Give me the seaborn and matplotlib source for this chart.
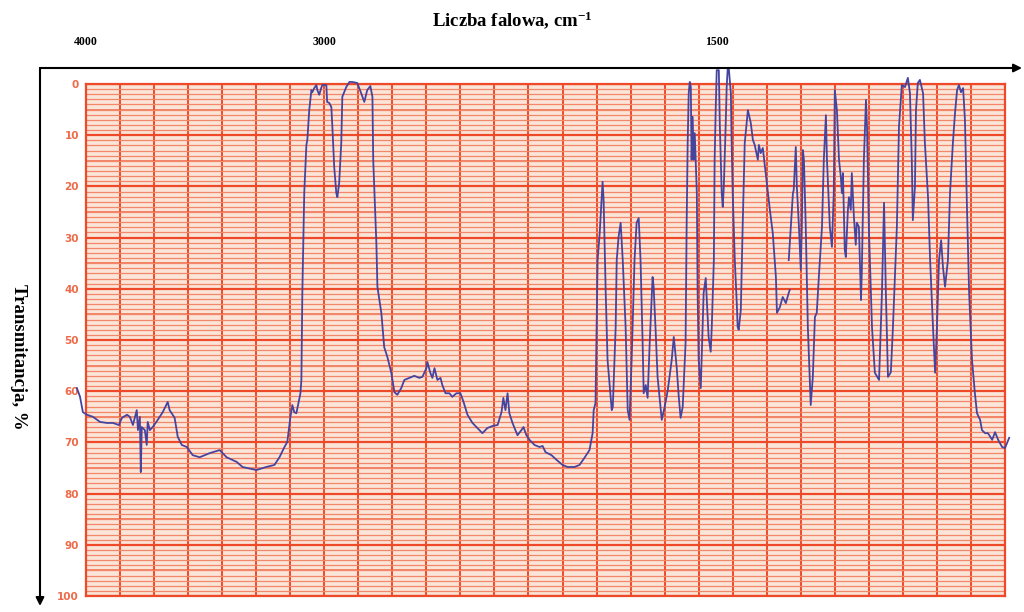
import numpy as np
import pandas as pd
import matplotlib
matplotlib.use("Agg")
import matplotlib.pyplot as plt
from matplotlib.patches import FancyArrowPatch
import seaborn as sns

# ---------------- data (wavenumber cm-1, transmittance %) ----------------
wn_a = [4038, 4025, 4013, 3996, 3971, 3941, 3912, 3887, 3862, 3849,
        3828, 3816, 3803, 3787, 3782, 3774, 3770, 3766, 3753, 3745,
        3741, 3732, 3720, 3699, 3678, 3657, 3649, 3628, 3615, 3598,
        3577, 3552, 3523, 3481, 3439, 3410, 3368, 3343, 3285, 3243,
        3209, 3188, 3167, 3155, 3142, 3134, 3126, 3117, 3100, 3096,
        3092, 3084, 3075, 3071, 3063, 3054, 3050, 3042, 3033, 3029,
        3021, 3013, 3008, 2992, 2989, 2981, 2973, 2969, 2962, 2954,
        2950, 2943, 2935, 2931, 2916, 2904, 2893, 2874, 2859, 2847,
        2836, 2824, 2816, 2813, 2801, 2797, 2782, 2771, 2759, 2744,
        2732, 2721, 2706, 2694, 2675, 2656, 2637, 2625, 2610, 2606,
        2595, 2587, 2579, 2568, 2556, 2549, 2537, 2522, 2511, 2495,
        2480, 2468, 2453, 2434, 2415, 2396, 2377, 2358, 2338, 2323,
        2316, 2308, 2300, 2293, 2281, 2262, 2247, 2239, 2228, 2216,
        2197, 2178, 2166, 2155, 2132, 2113, 2090, 2071, 2044, 2025,
        2006, 1987, 1975, 1971, 1964, 1956, 1948, 1937, 1933, 1925,
        1918, 1902, 1898, 1887, 1883, 1876, 1868, 1860, 1849, 1841,
        1834, 1826, 1815, 1807, 1799, 1792, 1784, 1780, 1772, 1765,
        1757, 1746, 1742, 1734, 1727, 1711, 1700, 1688, 1673, 1665,
        1654, 1646, 1639, 1631, 1620, 1616, 1612, 1608, 1604, 1600,
        1597, 1593, 1589, 1585, 1577, 1574, 1570, 1562, 1555, 1551,
        1543, 1539, 1532, 1524, 1520, 1512, 1509, 1505, 1501, 1493,
        1489, 1482, 1478, 1474, 1467, 1463, 1459, 1455, 1447, 1444,
        1440, 1432, 1425, 1421, 1417, 1409, 1402, 1394, 1382, 1371,
        1363, 1356, 1344, 1340, 1333, 1325, 1321, 1310, 1298, 1287,
        1275, 1271, 1260, 1249, 1237, 1226, 1222]
tr_a = [59.4, 61.1, 64.1, 64.6, 65.0, 66.0, 66.2, 66.2, 66.6, 65.2,
        64.6, 65.0, 66.6, 63.7, 67.6, 65.0, 75.8, 67.0, 67.6, 70.5,
        66.0, 67.6, 67.0, 65.6, 64.1, 62.1, 63.7, 65.2, 68.9, 70.5,
        70.9, 72.5, 72.9, 72.1, 71.5, 72.9, 73.8, 74.8, 75.4, 74.8,
        74.4, 72.9, 70.9, 69.9, 65.0, 62.7, 64.1, 64.3, 60.4, 57.8,
        40.8, 21.3, 11.9, 10.9, 5.1, 1.2, 1.6, 0.8, 0.2, 1.2,
        2.1, 0.8, 0.2, 0.2, 3.5, 3.7, 4.5, 8.4, 16.2, 21.3,
        22.1, 19.3, 11.5, 2.5, 0.6, -0.4, -0.4, -0.2, 1.8, 3.5,
        1.2, 0.4, 2.5, 14.8, 31.1, 39.6, 44.7, 51.4, 53.3, 56.4,
        60.2, 60.7, 59.4, 57.8, 57.4, 57.0, 57.4, 57.2, 55.5, 54.3,
        56.4, 57.4, 55.5, 57.8, 57.4, 58.8, 60.4, 60.4, 61.1, 60.4,
        60.4, 62.1, 64.6, 66.2, 67.2, 68.2, 67.2, 66.8, 66.6, 64.1,
        61.3, 63.7, 60.4, 64.3, 66.2, 68.6, 67.6, 67.0, 68.6, 69.5,
        70.5, 70.9, 70.7, 71.9, 72.5, 73.4, 74.4, 74.8, 74.8, 74.4,
        73.0, 71.5, 68.2, 63.7, 62.3, 34.4, 29.1, 19.1, 22.7, 40.8,
        53.9, 63.7, 63.1, 47.5, 34.4, 29.9, 27.1, 34.4, 47.5, 63.7,
        65.6, 53.9, 34.4, 27.1, 26.2, 34.4, 50.6, 60.4, 58.8, 61.3,
        50.6, 37.7, 39.6, 48.6, 57.2, 65.6, 63.1, 59.8, 53.9, 49.4,
        55.3, 61.1, 65.2, 63.1, 50.6, 27.9, 11.5, 1.8, -0.4, 0.6,
        14.8, 6.4, 14.8, 9.6, 21.3, 40.8, 53.9, 59.4, 47.5, 40.8,
        37.9, 42.2, 49.4, 52.3, 47.5, 34.4, 14.8, 5.1, -2.7, -2.7,
        8.4, 21.3, 24.0, 20.1, 8.4, 0.6, -3.1, -3.1, 1.8, 11.5,
        21.3, 34.4, 42.2, 47.5, 48.0, 44.1, 27.9, 11.5, 5.1, 7.6,
        10.9, 11.9, 14.8, 11.9, 13.5, 12.5, 14.3, 19.3, 24.6, 29.1,
        37.7, 44.7, 43.6, 41.6, 42.8, 40.8, 40.2]

wn_b = [1226, 1210, 1207, 1199, 1195, 1187, 1180, 1176, 1172, 1168,
        1161, 1153, 1142, 1134, 1126, 1119, 1111, 1099, 1092, 1084,
        1080, 1069, 1061, 1054, 1050, 1042, 1034, 1027, 1023, 1019,
        1012, 1008, 1000, 996, 989, 985, 977, 970, 966, 958,
        950, 947, 939, 931, 927, 920, 908, 897, 881, 870,
        862, 855, 847, 836, 828, 813, 805, 794, 782, 771,
        763, 756, 752, 744, 740, 733, 725, 713, 706, 694,
        686, 675, 667, 660, 652, 644, 637, 629, 618, 610,
        599, 591, 583, 576, 568, 560, 553, 545, 537, 526,
        515, 507, 495, 488, 476, 465, 449, 438, 426, 411,
        400, 384]
tr_b = [34.4, 21.3, 20.7, 12.3, 20.1, 27.9, 36.3, 27.9, 12.9, 14.8,
        27.9, 47.5, 62.7, 57.2, 45.5, 44.7, 37.7, 27.9, 14.8, 6.1,
        14.8, 27.9, 31.8, 21.3, 1.2, 5.1, 14.8, 18.2, 21.3, 17.4,
        32.4, 33.8, 24.6, 22.1, 24.6, 17.4, 26.0, 31.4, 27.1, 27.9,
        42.2, 36.9, 14.8, 3.1, 8.4, 27.9, 47.5, 56.4, 57.8, 40.8,
        23.2, 40.8, 57.2, 56.3, 47.5, 27.9, 8.4, 0.2, 0.6, -1.2,
        1.8, 14.8, 26.6, 20.1, 5.1, -0.2, -0.8, 1.8, 11.5, 22.1,
        34.4, 47.5, 56.4, 47.5, 34.4, 30.5, 35.7, 39.6, 34.4, 21.3,
        11.5, 5.7, 1.2, 0.2, 1.6, 0.8, 7.0, 24.6, 40.8, 53.9,
        60.4, 64.3, 65.6, 67.6, 68.2, 68.2, 69.5, 68.0, 69.5, 70.9,
        71.1, 69.1]

x_tick_values = [4000, 3000, 1500]
y_tick_values = list(range(0, 101, 10))
title_text = "Liczba falowa, cm$^{-1}$"
ylabel_text = "Transmitancja, %"

df = pd.concat([
    pd.DataFrame({"wn": wn_a, "T": tr_a, "seg": 0}),
    pd.DataFrame({"wn": wn_b, "T": tr_b, "seg": 1}),
], ignore_index=True)

# ---------------- chart-paper x scale (two linear segments) ----------------
STEP1 = 1000.0 / 7.0   # cm-1 per grid division above 3000
STEP2 = 130.0          # cm-1 per grid division below 3000


def fwd(w):
    w = np.asarray(w, dtype=float)
    u = np.where(w >= 3000, (4000.0 - w) / STEP1, 7.0 + (3000.0 - w) / STEP2)
    return -u


def inv(v):
    u = -np.asarray(v, dtype=float)
    return np.where(u <= 7, 4000.0 - u * STEP1, 3000.0 - (u - 7.0) * STEP2)


plt.rcParams["mathtext.default"] = "regular"
fig = plt.figure(figsize=(10.24, 6.12), dpi=100)
W, H = 1024.0, 612.0
ax = fig.add_axes([86 / W, 1 - 596 / H, 919 / W, 512 / H])
ax.set_xscale("function", functions=(fwd, inv))
ax.set_xlim(4000, 400)
ax.set_ylim(100, 0)

ax.set_facecolor("#fbe4d8")
major_red = "#ee4a2a"
minor_red = "#f2876a"

# grid
ax.set_yticks(y_tick_values)
ax.set_yticks(np.arange(0, 101, 1), minor=True)
ax.set_xticks(x_tick_values)
ax.set_xticks(inv(-np.arange(28)), minor=True)
ax.xaxis.remove_overlapping_locs = False
ax.grid(True, which="minor", axis="y", color=minor_red, lw=0.9, zorder=0)
ax.grid(True, which="major", axis="y", color=major_red, lw=1.6, zorder=0)
ax.grid(True, which="minor", axis="x", color=major_red, lw=1.4, zorder=0)
ax.grid(False, which="major", axis="x")
ax.set_axisbelow(True)
for v in range(5, 100, 10):
    ax.axhline(v, color="#f06a4a", lw=1.1, zorder=0.5)

n_before = len(ax.lines)
sns.lineplot(data=df, x="wn", y="T", units="seg", estimator=None, sort=False,
             color="#4545a0", lw=1.3, legend=False, ax=ax)
for ln in ax.lines[n_before:]:
    ln.set_clip_on(False)
    ln.set_zorder(3)

for s in ax.spines.values():
    s.set_color(major_red)
    s.set_linewidth(1.6)

ax.tick_params(axis="both", which="both", length=0)
ax.tick_params(axis="x", which="major", top=True, labeltop=True,
               bottom=False, labelbottom=False, pad=26)
ax.tick_params(axis="y", which="major", pad=5)
ax.set_xticklabels([str(v) for v in x_tick_values], fontsize=8.5,
                   fontweight="bold", family="Liberation Serif", color="black")
ax.set_yticklabels([str(v) for v in y_tick_values], fontsize=7.5,
                   fontweight="bold", color="#ef6a48")
ax.set_xlabel("")
ax.set_ylabel("")

# frame arrows
fig.add_artist(FancyArrowPatch((40 / W, 1 - 68 / H), (1022 / W, 1 - 68 / H),
                               transform=fig.transFigure, arrowstyle="-|>",
                               mutation_scale=12, color="black", lw=1.5,
                               shrinkA=0, shrinkB=0))
fig.add_artist(FancyArrowPatch((40 / W, 1 - 68 / H), (40 / W, 1 - 606 / H),
                               transform=fig.transFigure, arrowstyle="-|>",
                               mutation_scale=12, color="black", lw=1.5,
                               shrinkA=0, shrinkB=0))

fig.text(512 / W, 1 - 20 / H, title_text, ha="center", va="center",
         fontsize=13.5, fontweight="bold", family="Liberation Serif")
fig.text(18 / W, 1 - 357 / H, ylabel_text, rotation=270, ha="center",
         va="center", fontsize=13.5, fontweight="bold", family="Liberation Serif")

fig.savefig("out.png", dpi=100)
